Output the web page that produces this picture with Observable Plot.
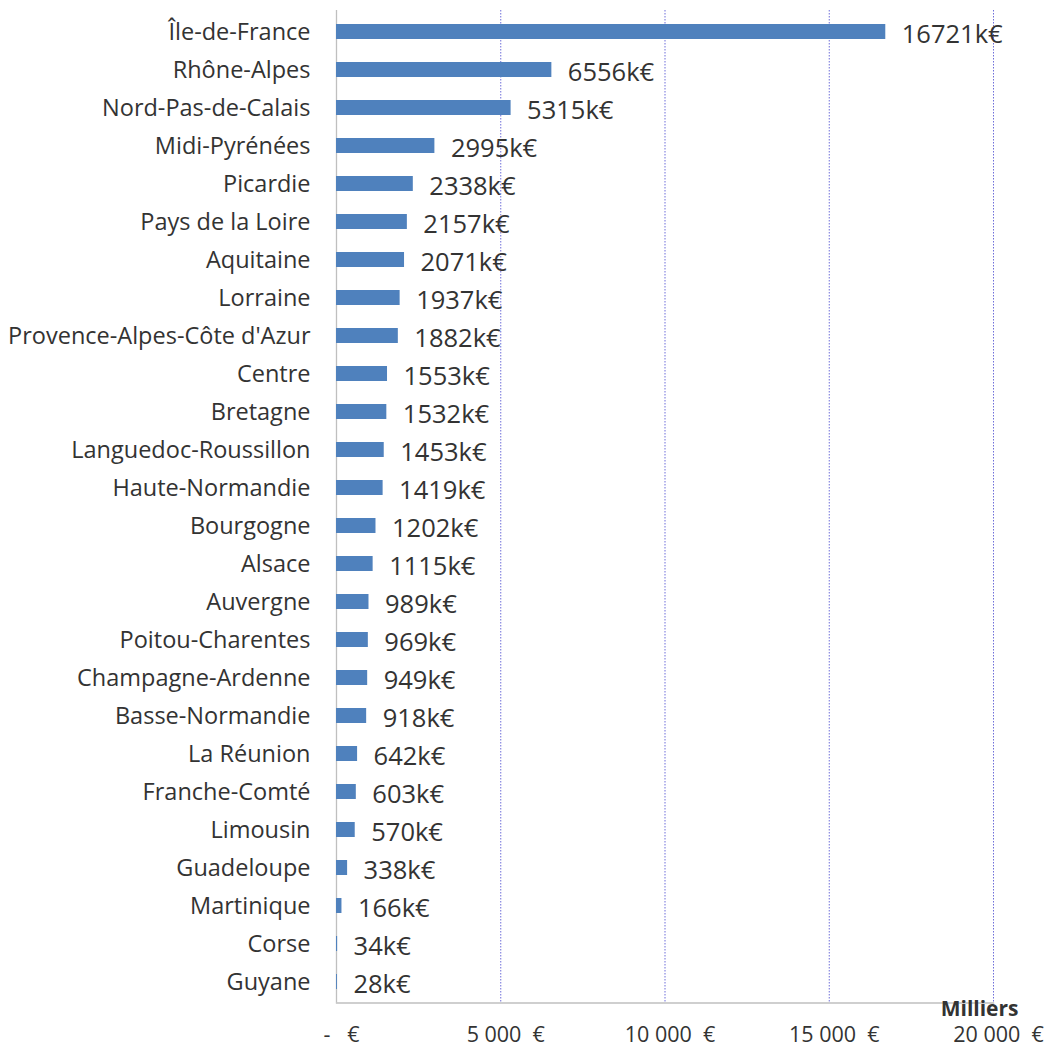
<!DOCTYPE html>
<html>
<head>
<meta charset="utf-8">
<script src="https://cdn.jsdelivr.net/npm/d3@7"></script>
<script src="https://cdn.jsdelivr.net/npm/@observablehq/plot@0.6"></script>
<style>
  html, body { margin: 0; padding: 0; background: #fff; }
</style>
</head>
<body>
<div id="chart"></div>
<script>
const regions = ["Île-de-France","Rhône-Alpes","Nord-Pas-de-Calais","Midi-Pyrénées","Picardie","Pays de la Loire","Aquitaine","Lorraine","Provence-Alpes-Côte d'Azur","Centre","Bretagne","Languedoc-Roussillon","Haute-Normandie","Bourgogne","Alsace","Auvergne","Poitou-Charentes","Champagne-Ardenne","Basse-Normandie","La Réunion","Franche-Comté","Limousin","Guadeloupe","Martinique","Corse","Guyane"];
const values = [16721,6556,5315,2995,2338,2157,2071,1937,1882,1553,1532,1453,1419,1202,1115,989,969,949,918,642,603,570,338,166,34,28];
const xTicks = [0,5000,10000,15000,20000];
const gridTicks = [5000,10000,15000,20000];
const unitLabel = "Milliers";

const data = regions.map((r,i) => ({region: r, value: values[i]}));
const fmt = v => v === 0 ? "-   €" : d3.format(",")(v).replace(/,/g, " ") + "  €";

const chart = Plot.plot({
  width: 1051,
  height: 1048,
  marginLeft: 336,
  marginRight: 58,
  marginTop: 10,
  marginBottom: 45.5,
  style: {fontFamily: "'Open Sans', sans-serif", fontSize: "20px", color: "#333", background: "#fff", overflow: "visible"},
  x: {domain: [0, 20000]},
  y: {domain: regions, paddingInner: 0.6, paddingOuter: 0.3, align: 0.5},
  marks: [
    Plot.ruleX(gridTicks, {stroke: "#4a4ad0", strokeWidth: 1, strokeDasharray: "1.5,1.5", strokeOpacity: 0.8}),
    Plot.frame({anchor: "bottom", stroke: "#bfbfbf", strokeWidth: 1.3}),
    Plot.ruleX([0], {stroke: "#bfbfbf", strokeWidth: 1.3}),
    Plot.barX(data, {x: "value", y: "region", fill: "#4f81bd"}),
    Plot.text(data, {x: "value", y: "region", text: d => d.value + "k€", textAnchor: "start", dx: 16, dy: 3, fontSize: 25.5, fill: "#333"}),
    Plot.axisY({tickSize: 0, tickPadding: 26, fontSize: 23.5, label: null, fill: "#333"}),
    Plot.axisX({ticks: xTicks, tickFormat: fmt, tickSize: 0, tickPadding: 24, fontSize: 21.5, label: null, fill: "#333", dx: 5}),
    Plot.text([unitLabel], {frameAnchor: "bottom-right", dx: 25, dy: 13, textAnchor: "end", fontWeight: "bold", fontSize: 21, fill: "#333"})
  ]
});
document.getElementById("chart").appendChild(chart);
</script>
</body>
</html>
